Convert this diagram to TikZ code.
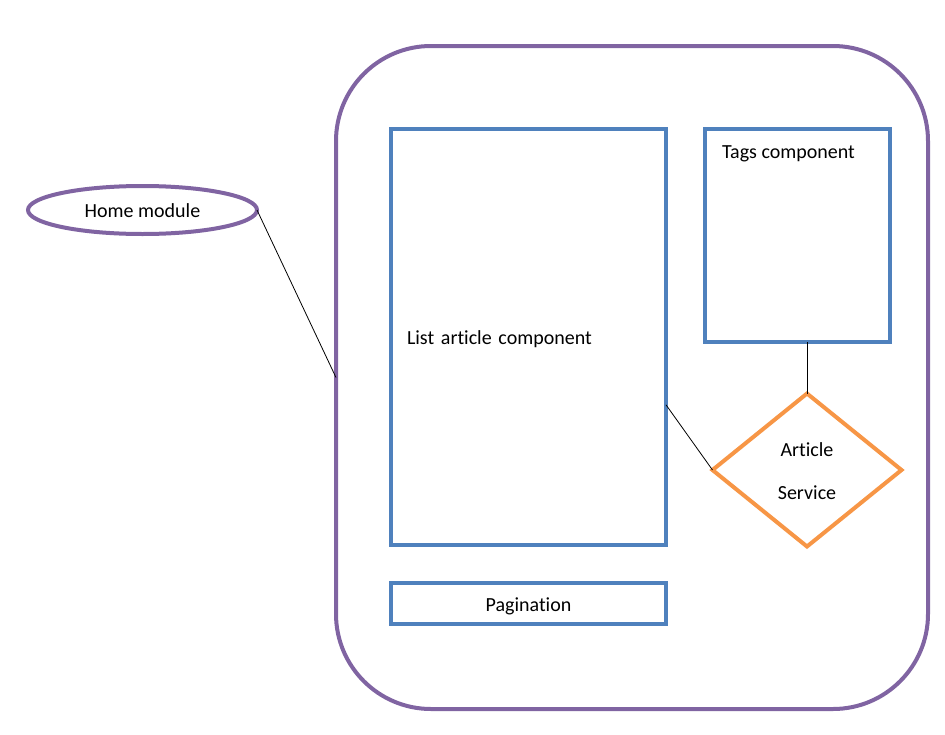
\documentclass[tikz,border=0pt]{standalone}
\usepackage{fontspec}
\setmainfont[Ligatures=NoCommon]{Carlito}
\usetikzlibrary{shapes.geometric,calc}
\definecolor{cpurple}{HTML}{8064A2}
\definecolor{cblue}{HTML}{4F81BD}
\definecolor{corange}{HTML}{F79646}
\begin{document}
\begin{tikzpicture}[x=1pt,y=-1pt,
  every node/.style={font=\fontsize{20}{24}\selectfont, outer sep=0pt, text height=17.5pt, text depth=2pt},
  modbox/.style={draw=cpurple, line width=4pt, rounded corners=95pt, rectangle},
  modell/.style={draw=cpurple, line width=4pt, ellipse, inner sep=0pt},
  compbox/.style={draw=cblue, line width=4pt, rectangle, inner sep=0pt},
  svc/.style={draw=corange, line width=4pt, diamond, inner sep=0pt, align=center, text height=60.5pt, text depth=2.5pt},
  conn/.style={draw=black, line width=0.8pt}
]
\useasboundingbox (0,0) rectangle (945,734);
\node[modbox, minimum width=592pt, minimum height=663pt] (home) at (632,377.5) {};
\node[modell, minimum width=229pt, minimum height=48pt] (homemod) at (142.5,210) {Home module};
\node[compbox, minimum width=275pt, minimum height=416pt, text width=243pt, inner xsep=16pt, align=left] (list) at (528.5,337) {List article component};
\node[compbox, minimum width=185pt, minimum height=213pt] (tags) at (797.5,235.5) {};
\node[anchor=west, inner sep=0pt] (tagstext) at (722,151) {Tags component};
\node[compbox, minimum width=275pt, minimum height=41pt] (pag) at (528.5,603.5) {Pagination};
\node[svc, minimum width=189pt, minimum height=153pt] (artsvc) at (807,470) {Article\\[19pt]Service};
\draw[conn] (homemod.east) -- (home.west);
\draw[conn] ($(list.south east)!0.337!(list.north east)$) -- (artsvc.west);
\draw[conn] (tags.south -| artsvc.north) -- (artsvc.north);
\end{tikzpicture}
\end{document}
